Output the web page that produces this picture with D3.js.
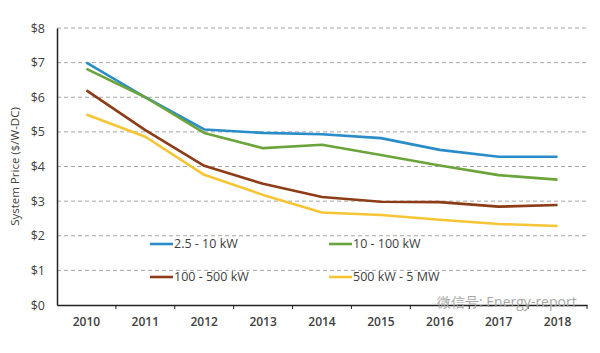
<!DOCTYPE html>
<html>
<head>
<meta charset="utf-8">
<script src="https://cdn.jsdelivr.net/npm/d3@7"></script>
<style>
  body { margin: 0; background: #fff; }
  text { font-family: "Open Sans", "Noto Sans", sans-serif; }
</style>
</head>
<body>
<div id="app"></div>
<script>
const years = ["2010", "2011", "2012", "2013", "2014", "2015", "2016", "2017", "2018"];
const yTicks = [0, 1, 2, 3, 4, 5, 6, 7, 8];

const small = [7.0, 6.0, 5.07, 4.97, 4.93, 4.82, 4.48, 4.28, 4.28];
const medium = [6.82, 6.0, 4.97, 4.53, 4.63, 4.33, 4.03, 3.75, 3.62];
const large = [6.2, 5.05, 4.02, 3.5, 3.12, 2.98, 2.97, 2.84, 2.89];
const utility = [5.5, 4.86, 3.76, 3.18, 2.67, 2.6, 2.46, 2.34, 2.28];

const series = [
  { name: "2.5 - 10 kW", values: small, color: "#2a8cc8" },
  { name: "10 - 100 kW", values: medium, color: "#6ba43a" },
  { name: "100 - 500 kW", values: large, color: "#8c3c16" },
  { name: "500 kW - 5 MW", values: utility, color: "#f6c435" }
];

const width = 600;
const height = 353;
const margin = { top: 28, right: 13, bottom: 48, left: 57 };

const svg = d3.select("#app").append("svg")
  .attr("width", width)
  .attr("height", height);

const x = d3.scaleBand().domain(years).range([margin.left, width - margin.right]);
const y = d3.scaleLinear().domain([0, 8]).range([height - margin.bottom, margin.top]);

// grid
svg.append("g")
  .selectAll("line")
  .data(yTicks.filter((d) => d > 0))
  .join("line")
  .attr("x1", margin.left)
  .attr("x2", width - margin.right)
  .attr("y1", (d) => y(d))
  .attr("y2", (d) => y(d))
  .attr("stroke", "#a6a6a6")
  .attr("stroke-width", 1)
  .attr("stroke-dasharray", "4,3");

// y axis
const yAxis = svg.append("g")
  .attr("transform", `translate(${margin.left},0)`)
  .call(d3.axisLeft(y).tickValues(yTicks).tickSize(0).tickPadding(12).tickFormat((d) => "$" + d));
yAxis.select(".domain").attr("stroke", "#222").attr("stroke-width", 1.5);
yAxis.selectAll("text").attr("font-size", 12.5).attr("fill", "#404040");

// x axis
const xAxis = svg.append("g")
  .attr("transform", `translate(0,${y(0)})`)
  .call(d3.axisBottom(x).tickSize(0).tickPadding(12));
xAxis.select(".domain").attr("stroke", "#222").attr("stroke-width", 1.5);
xAxis.selectAll("text").attr("font-size", 12).attr("font-weight", 600).attr("fill", "#404040");
xAxis.selectAll(".sep")
  .data(years)
  .join("line")
  .attr("class", "sep")
  .attr("x1", (d) => x(d) + x.bandwidth())
  .attr("x2", (d) => x(d) + x.bandwidth())
  .attr("y1", 0)
  .attr("y2", 4)
  .attr("stroke", "#222");

svg.append("text")
  .attr("transform", `translate(19,${(margin.top + y(0)) / 2}) rotate(-90)`)
  .attr("text-anchor", "middle")
  .attr("font-size", 11.5)
  .attr("fill", "#404040")
  .text("System Price ($/W-DC)");

// lines
const line = d3.line()
  .x((d, i) => x(years[i]) + x.bandwidth() / 2)
  .y((d) => y(d));

svg.append("g")
  .selectAll("path")
  .data(series)
  .join("path")
  .attr("d", (d) => line(d.values))
  .attr("fill", "none")
  .attr("stroke", (d) => d.color)
  .attr("stroke-width", 2.6)
  .attr("stroke-linejoin", "round");

// legend
const legend = svg.append("g");
const items = legend.selectAll("g")
  .data(series)
  .join("g")
  .attr("transform", (d, i) => `translate(${i % 2 === 0 ? 150 : 329},${i < 2 ? 244 : 277})`);
items.append("line")
  .attr("x1", 0).attr("x2", 23)
  .attr("stroke", (d) => d.color)
  .attr("stroke-width", 2.6);
items.append("text")
  .attr("x", 24)
  .attr("dy", "0.35em")
  .attr("font-size", 12.5)
  .attr("fill", "#404040")
  .text((d) => d.name);

// watermark
svg.append("text")
  .attr("x", 437)
  .attr("y", 307)
  .attr("font-size", 14)
  .attr("fill", "#a8a8a8")
  .attr("font-family", "'Noto Sans CJK SC', sans-serif")
  .text("微信号: Energy-report");
</script>
</body>
</html>
